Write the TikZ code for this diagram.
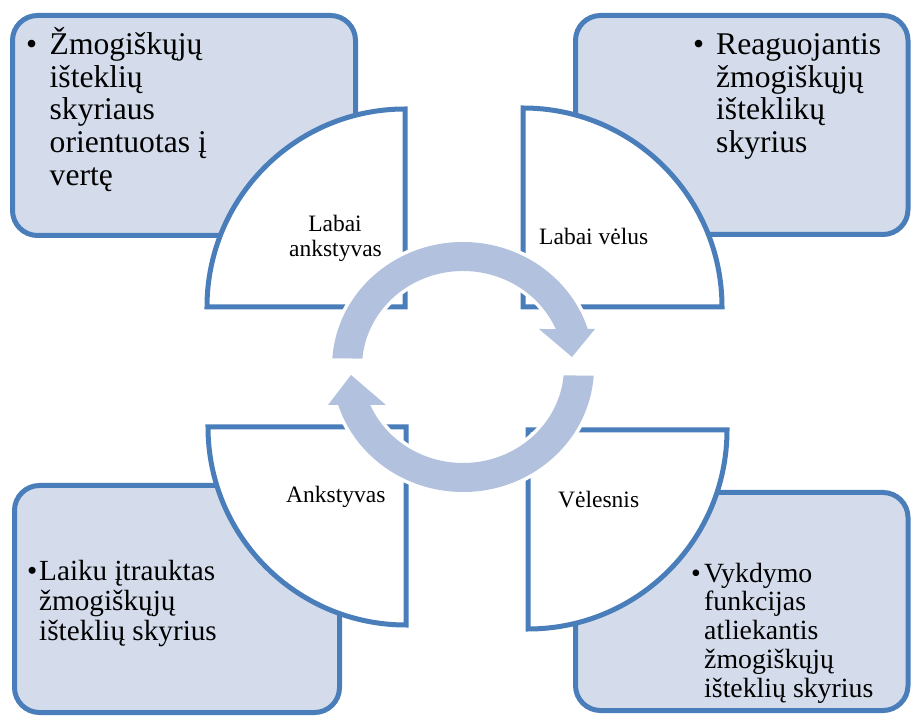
\documentclass[tikz,border=0pt]{standalone}
\usepackage{fontspec}
\setmainfont{Liberation Serif}
\definecolor{edgeblue}{RGB}{74,126,187}
\definecolor{boxfill}{RGB}{212,220,235}
\definecolor{ringfill}{RGB}{178,194,222}
\begin{document}
\begin{tikzpicture}[x=1pt,y=1pt,
  infobox/.style={draw=edgeblue, fill=boxfill, line width=5pt, rounded corners=25pt},
  stage/.style={draw=edgeblue, fill=white, line width=5pt, line join=miter},
  ring/.style={fill=ringfill, preaction={draw=white, line width=7pt, line join=round}},
  txt/.style={anchor=base west, inner sep=0pt},
  fa/.style={txt, font=\fontsize{31.6}{33}\selectfont},
  fb/.style={txt, font=\fontsize{29.2}{30}\selectfont},
  fc/.style={txt, font=\fontsize{27.8}{29}\selectfont},
  lbl/.style={inner sep=0pt, font=\fontsize{23.5}{25}\selectfont},
]
\useasboundingbox (0,0) rectangle (912,717);

% outer information boxes
\draw[infobox] (12.5,481.5) rectangle (355.5,701.5);
\draw[infobox] (575.5,482.5) rectangle (908,701.5);
\draw[infobox] (14.5,4.5) rectangle (339.5,231.5);
\draw[infobox] (575.5,6.5) rectangle (908,224.5);

% quarter-circle stages
\draw[stage] (405,410) -- (207,410) arc[start angle=180, end angle=90, radius=198] -- cycle;
\draw[stage] (523,410) -- (523,609) arc[start angle=90, end angle=0, radius=199] -- cycle;
\draw[stage] (406,290) -- (208,290) arc[start angle=180, end angle=270, radius=198] -- cycle;
\draw[stage] (528,287) -- (727,287) arc[start angle=0, end angle=-90, radius=199] -- cycle;

% circular arrows
\begin{scope}[shift={(463,350)}]
  \path[ring] (176:131 and 125) arc[start angle=176, end angle=17.7, x radius=131, y radius=125]
    -- (132,38) -- (109,10) -- (76,38)
    -- (23.3:101 and 96) arc[start angle=23.3, end angle=175, x radius=101, y radius=96] -- cycle;
  \path[ring] (-4:131 and 125) arc[start angle=-4, end angle=-162.3, x radius=131, y radius=125]
    -- (-135,-38) -- (-112,-8) -- (-77,-38)
    -- (-156.7:101 and 96) arc[start angle=-156.7, end angle=-5, x radius=101, y radius=96] -- cycle;
\end{scope}

% stage labels
\node[lbl, anchor=base] (s1a) at (335,485.3) {Labai};
\node[lbl, anchor=base] (s1b) at (335.5,460.3) {ankstyvas};
\node[lbl, anchor=base west] (s2) at (539,472.7) {Labai vėlus};
\node[lbl, anchor=base west] (s3) at (286,214.7) {Ankstyvas};
\node[lbl, anchor=base west] (s4) at (558,209.7) {Vėlesnis};

% top-left box text
\node[fa] (b1) at (26,662.7) {•};
\node[fa] (t1a) at (49.5,662.7) {Žmogiškųjų};
\node[fa] (t1b) at (49.5,629.9) {išteklių};
\node[fa] (t1c) at (49.5,597.1) {skyriaus};
\node[fa] (t1d) at (49.5,564.3) {orientuotas į};
\node[fa] (t1e) at (49.5,531.5) {vertę};

% top-right box text
\node[fa] (b2) at (693,662.7) {•};
\node[fa] (t2a) at (716,662.7) {Reaguojantis};
\node[fa] (t2b) at (716,629.9) {žmogiškųjų};
\node[fa] (t2c) at (716,597.1) {išteklikų};
\node[fa] (t2d) at (716,564.3) {skyrius};

% bottom-left box text
\node[fb] (b3) at (27,136) {•};
\node[fb] (t3a) at (39,136) {Laiku įtrauktas};
\node[fb] (t3b) at (39,106.2) {žmogiškųjų};
\node[fb] (t3c) at (39,76.4) {išteklių skyrius};

% bottom-right box text
\node[fc] (b4) at (691,134.7) {•};
\node[fc] (t4a) at (704,134.7) {Vykdymo};
\node[fc] (t4b) at (704,106) {funkcijas};
\node[fc] (t4c) at (704,77.2) {atliekantis};
\node[fc] (t4d) at (704,48.5) {žmogiškųjų};
\node[fc] (t4e) at (704,19.7) {išteklių skyrius};
\end{tikzpicture}
\end{document}
